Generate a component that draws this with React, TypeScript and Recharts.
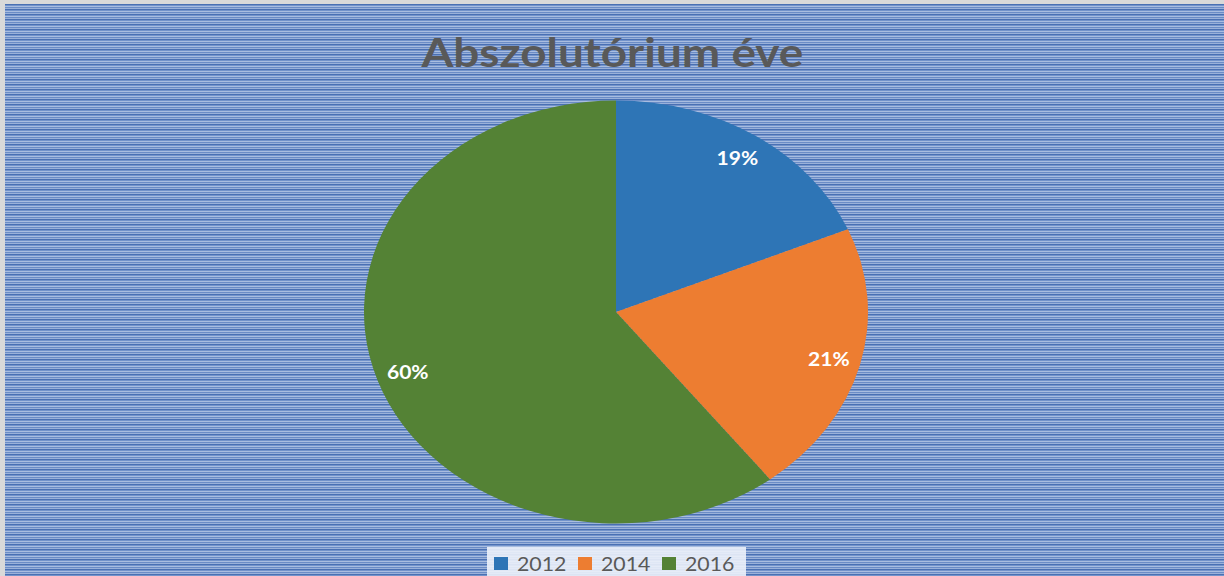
import { PieChart, Pie, Cell, Legend } from 'recharts';

const years = ['2012', '2014', '2016'];
const counts = [8, 9, 26];
const colors = ['#2e75b6', '#ed7d31', '#548235'];

const data = years.map((year, i) => ({ year, value: counts[i] }));

const CX = 616;
const CY = 312;
const RY = 211.5;
const RX = 252;
const SX = RX / RY;

const RAD = Math.PI / 180;

// the source image is stretched sideways, so the pie is an ellipse
function EllipseSector(props: any) {
  const { cx, cy, outerRadius, startAngle, endAngle, fill } = props;
  const ry = outerRadius;
  const rx = outerRadius * SX;
  const x1 = cx + rx * Math.cos(startAngle * RAD);
  const y1 = cy - ry * Math.sin(startAngle * RAD);
  const x2 = cx + rx * Math.cos(endAngle * RAD);
  const y2 = cy - ry * Math.sin(endAngle * RAD);
  const large = Math.abs(startAngle - endAngle) > 180 ? 1 : 0;
  const sweep = startAngle > endAngle ? 1 : 0;
  const d = `M${cx},${cy} L${x1},${y1} A${rx},${ry} 0 ${large} ${sweep} ${x2},${y2} Z`;
  return <path d={d} fill={fill} stroke="none" />;
}

function renderLabel(props: any) {
  const { cx, cy, midAngle, outerRadius, percent } = props;
  const k = 0.873;
  const x = cx + outerRadius * SX * k * Math.cos(midAngle * RAD);
  const y = cy - outerRadius * k * Math.sin(midAngle * RAD);
  return (
    <text
      transform={`translate(${x},${y}) scale(1.17,1)`}
      fill="#ffffff"
      textAnchor="middle"
      dominantBaseline="central"
      style={{ fontFamily: 'Lato', fontWeight: 700, fontSize: 18 }}
    >
      {`${Math.round(percent * 100)}%`}
    </text>
  );
}

function LegendBox({ payload }: any) {
  return (
    <div
      style={{
        display: 'flex',
        alignItems: 'center',
        height: 32,
        background: 'rgba(236, 241, 249, 0.9)',
        paddingLeft: 7,
        boxSizing: 'border-box',
      }}
    >
      {(payload || []).map((p: any) => (
        <div key={p.value} style={{ display: 'flex', alignItems: 'center', width: 87 }}>
          <span style={{ width: 14, height: 13, background: p.color, display: 'inline-block', marginRight: 9 }} />
          <span
            style={{
              fontFamily: 'Lato',
              fontSize: 19,
              color: '#595959',
              display: 'inline-block',
              transform: 'scaleX(1.12)',
              transformOrigin: 'left center',
            }}
          >
            {p.value}
          </span>
        </div>
      ))}
    </div>
  );
}

const stripes =
  'repeating-linear-gradient(180deg, #4a70b3 0px, #4a70b3 1px, #7393cb 1px, #7393cb 2px, #a9bde0 2px, #a9bde0 3px, #6b8cc6 3px, #6b8cc6 4px, #9ab1da 4px, #9ab1da 5px)';

export default function App() {
  return (
    <div style={{ position: 'fixed', left: 0, top: 0, width: 1224, height: 576, background: '#d9d9d9', overflow: 'hidden' }}>
      <div style={{ position: 'absolute', left: 5, top: 4, right: 0, bottom: 0, background: stripes }} />
      <div
        style={{
          position: 'absolute',
          left: 0,
          width: 1224,
          top: 28,
          textAlign: 'center',
          fontFamily: 'Lato',
          fontWeight: 700,
          fontSize: 40,
          color: '#595959',
        }}
      >
        <span style={{ display: 'inline-block', transform: 'scaleX(1.148)' }}>Abszolutórium éve</span>
      </div>
      <div style={{ position: 'absolute', left: 0, top: 0 }}>
        <PieChart width={1224} height={576} margin={{ top: 0, right: 0, bottom: 0, left: 0 }}>
          <Pie
            data={data}
            dataKey="value"
            nameKey="year"
            cx={CX}
            cy={CY}
            outerRadius={RY}
            startAngle={90}
            endAngle={-270}
            stroke="none"
            labelLine={false}
            label={renderLabel}
            shape={EllipseSector}
            isAnimationActive={false}
          >
            {data.map((d, i) => (
              <Cell key={d.year} fill={colors[i]} />
            ))}
          </Pie>
          <Legend
            content={<LegendBox />}
            wrapperStyle={{ position: 'absolute', left: 487, top: 547, width: 259 }}
          />
        </PieChart>
      </div>
    </div>
  );
}
